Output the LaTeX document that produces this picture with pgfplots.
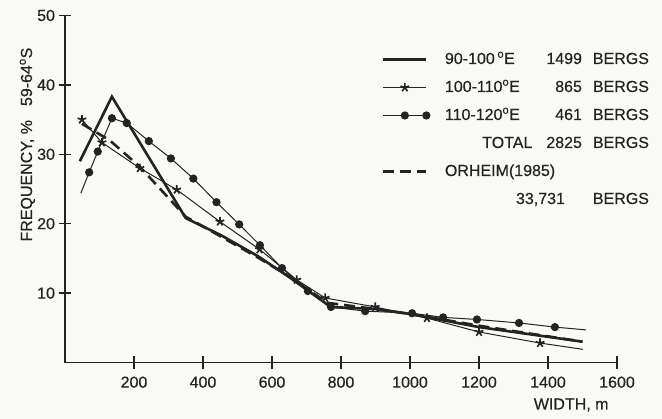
\documentclass[border=0pt]{standalone}
\usepackage{fontspec}
\setmainfont[FakeBold=0.4]{Liberation Sans}
\usepackage{pgfplots}
\pgfplotsset{compat=1.18}

\definecolor{ink}{RGB}{35,35,35}
\definecolor{paper}{RGB}{249,249,246}
\newcommand\f{\fontsize{16bp}{19bp}\selectfont}

\pgfplotsset{
    legline/.style={legend image code/.code={\draw[##1] (0bp,0bp) -- (43bp,0bp);}},
    legstar/.style={legend image code/.code={\draw[mark repeat=2, mark phase=2, ##1]
        plot coordinates {(0bp,0bp) (21.5bp,0bp) (43bp,0bp)};}},
    legdot/.style={legend image code/.code={\draw[mark repeat=1, mark phase=2, ##1]
        plot coordinates {(0bp,0bp) (21.5bp,0bp) (43bp,0bp)};}},
}

\begin{document}
\begin{tikzpicture}
\fill[paper] (-65bp,-56.5bp) rectangle (597bp,362.5bp);
\begin{axis}[
    scale only axis,
    width=552bp, height=347bp,
    xmin=0, xmax=1600, ymin=0, ymax=50,
    axis lines*=left,
    axis line style={line width=1.8bp, color=ink},
    xtick={200,400,...,1600},
    ytick={10,20,...,50},
    tick align=center,
    major tick length=13bp,
    tick style={line width=1.5bp, color=ink},
    ticklabel style={font=\f, color=ink},
    xticklabel style={yshift=-4bp},
    /pgf/number format/assume math mode=true,
    /pgf/number format/1000 sep={},
    xlabel={WIDTH, m},
    xlabel style={at={(axis description cs:0.991,-0.1225)}, anchor=east, font=\f, color=ink},
    ylabel={FREQUENCY, \%\hspace{14bp}59-64\textsuperscript{o}S},
    ylabel style={at={(axis description cs:-0.0598,0.628)}, anchor=base, font=\f, color=ink},
    legend style={draw=none, fill=none, inner sep=0bp,
        at={(rel axis cs:0.574,0.8954)}, anchor=north west,
        font=\f, text=ink,
        nodes={inner sep=0bp, text height=12bp, text depth=3bp},
        row sep=13bp,
        /tikz/every odd column/.append style={column sep=15bp}},
    legend cell align=left,
]
% 90-100 E
\addplot[ink, line width=2.6bp, legline] coordinates {
    (43,29.0) (136,38.3) (350,20.8) (450,18.4) (560,15.3) (650,12.3)
    (770,8.0) (900,7.7) (1000,7.0) (1200,5.1) (1500,3.0)
};
\addlegendentry{\rlap{90-100\,\textsuperscript{o}E}\makebox[137bp][r]{1499}\hspace{11bp}BERGS}
% 100-110 E
\addplot[ink, line width=1bp, mark=star, mark size=4.6bp,
    mark options={line width=1.7bp}, legstar] coordinates {
    (49,35.0) (107,31.7) (217,28.0) (324,24.9) (449,20.3) (564,16.3)
    (672,11.9) (754,9.3) (899,8.0) (1049,6.4) (1200,4.4) (1377,2.8)
};
\addlegendentry{\rlap{100-110\textsuperscript{o}E}\makebox[137bp][r]{865}\hspace{11bp}BERGS}
% 110-120 E
\addplot[ink, line width=1bp, mark=*, mark size=3.6bp, legdot] coordinates {
    (70,27.4) (95,30.4) (136,35.2) (179,34.5) (243,31.9) (307,29.4)
    (372,26.5) (439,23.1) (505,19.9) (565,16.9) (629,13.6) (704,10.3)
    (771,8.0) (870,7.4) (1006,7.1) (1096,6.5) (1194,6.2) (1316,5.7)
    (1420,5.1)
};
\addlegendentry{\rlap{110-120\textsuperscript{o}E}\makebox[137bp][r]{461}\hspace{11bp}BERGS}
\addlegendimage{empty legend}
\addlegendentry{\makebox[137bp][r]{TOTAL\hspace{14bp}2825}\hspace{11bp}BERGS}
% Orheim (1985)
\addplot[ink, line width=2.6bp, dash pattern=on 11bp off 6bp, legline] coordinates {
    (49,34.4) (130,32.0) (217,28.2) (350,21.0) (450,18.2) (560,15.1)
    (650,12.4) (760,8.6) (900,7.7) (1000,7.0) (1200,5.3) (1500,3.0)
};
\addlegendentry{ORHEIM(1985)}
\addlegendimage{empty legend}
\addlegendentry{\makebox[137bp][r]{33,731\hspace{17bp}}\hspace{11bp}BERGS}
% unmarked line ends
\addplot[ink, line width=1bp, forget plot] coordinates {(1377,2.8) (1501,1.9)};
\addplot[ink, line width=1bp, forget plot] coordinates {(46,24.4) (70,27.4)};
\addplot[ink, line width=1bp, forget plot] coordinates {(1420,5.1) (1510,4.7)};
\end{axis}
\path (-65bp,-56.5bp) rectangle (597bp,362.5bp);
\end{tikzpicture}
\end{document}
